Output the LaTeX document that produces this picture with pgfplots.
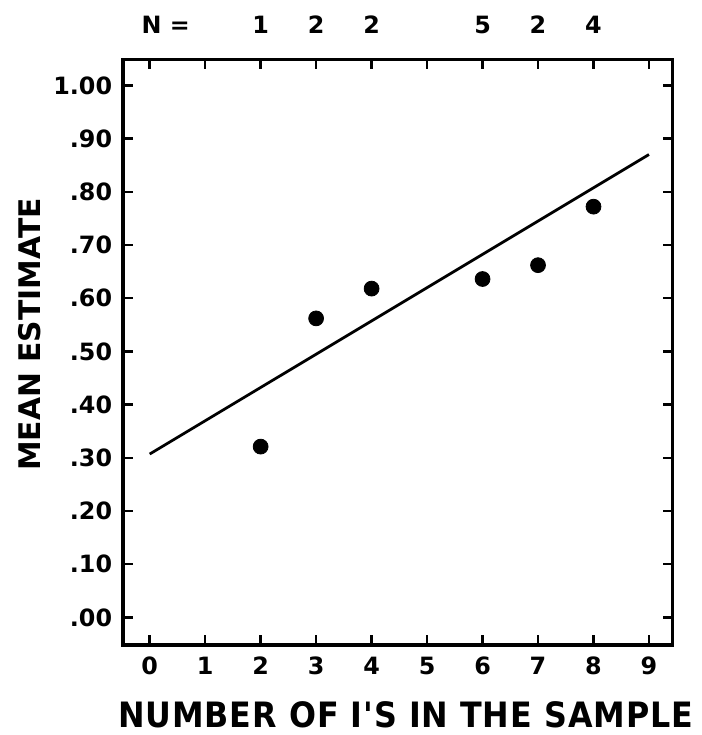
\documentclass[border=0pt]{standalone}
\usepackage{pgfplots}
\pgfplotsset{compat=1.18}
\usepackage{fontspec}
\setmainfont{DejaVu Sans}
\newfontfamily\xlabfont[LetterSpace=3]{DejaVu Sans}
\newfontfamily\ylabfont{DejaVu Sans}
\begin{document}
\begin{tikzpicture}
\begin{axis}[
  scale only axis,
  at={(0,0)}, anchor=south west,
  width=277pt, height=295pt,
  xmin=-0.48, xmax=9.43,
  ymin=-0.052, ymax=1.0485,
  axis line style={line width=1.6pt},
  tick style={line width=1.2pt, black},
  major tick length=5pt,
  tick align=inside,
  xtick pos=both, ytick pos=both,
  xticklabel pos=lower, yticklabel pos=left,
  xtick={0,...,9},
  ytick={0,0.1,...,1.0},
  yticklabels={.00,.10,.20,.30,.40,.50,.60,.70,.80,.90,1.00},
  xticklabel style={font=\bfseries\fontsize{12}{13}\selectfont, yshift=-2.5pt},
  yticklabel style={font=\bfseries\fontsize{12}{13}\selectfont, xshift=-2pt},
  /pgf/number format/assume math mode=true,
  xlabel={\xlabfont\bfseries\fontsize{16}{17}\selectfont NUMBER OF I'S IN THE SAMPLE},
  ylabel={\ylabfont\bfseries\fontsize{15}{16}\selectfont MEAN ESTIMATE},
  xlabel style={at={(axis description cs:0.514,-0.1186)}, anchor=center, yscale=1.1},
  ylabel style={at={(axis description cs:-0.1697,0.5305)}, anchor=center},
]
\addplot[black, line width=1.4pt] coordinates {(0,0.307) (9,0.870)};
\addplot[only marks, mark=*, mark size=3.75pt, black] coordinates {
  (2,0.321) (3,0.562) (4,0.618) (6,0.636) (7,0.662) (8,0.772)
};
\end{axis}
\begin{axis}[
  scale only axis,
  at={(0,0)}, anchor=south west,
  width=277pt, height=295pt,
  xmin=-0.48, xmax=9.43,
  ymin=-0.052, ymax=1.0485,
  axis x line*=top,
  axis y line=none,
  axis line style={draw=none},
  major tick length=0pt,
  xtick={0,2,3,4,6,7,8},
  xticklabels={{\makebox[0pt][l]{\kern-4pt N =}},1,2,2,5,2,4},
  xticklabel style={font=\bfseries\fontsize{12}{13}\selectfont, yshift=9.5pt},
]
\end{axis}
\path (-62pt,-42.5pt) rectangle (291.5pt,325pt);
\end{tikzpicture}
\end{document}
